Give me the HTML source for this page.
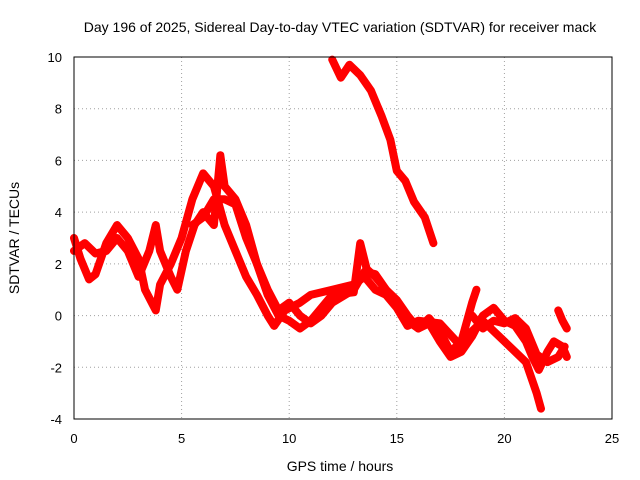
<!DOCTYPE html>
<html><head><meta charset="utf-8"><style>
body{margin:0;background:#fff}
svg{display:block;font-family:"Liberation Sans",sans-serif}
</style></head><body>
<svg id="chart" width="640" height="480">
<rect width="640" height="480" fill="#fff"/>
<text x="340" y="32" text-anchor="middle" font-size="14">Day 196 of 2025, Sidereal Day-to-day VTEC variation (SDTVAR) for receiver mack</text>
<text x="340" y="471" text-anchor="middle" font-size="14">GPS time / hours</text>
<text transform="translate(19,238) rotate(-90)" text-anchor="middle" font-size="14">SDTVAR / TECUs</text>
<g id="grid"></g><g id="ticks"></g><g id="series"></g>
<rect x="74" y="57" width="538" height="362" fill="none" stroke="#000" stroke-width="1"/>
</svg>
<script>
const xTicks=[0,5,10,15,20,25];
const yTicks=[-4,-2,0,2,4,6,8,10];
const seriesA=[[12.0,9.9],[12.4,9.2],[12.8,9.7],[13.3,9.3],[13.8,8.7],[14.3,7.7],[14.7,6.8],[15.0,5.6],[15.4,5.2],[15.8,4.4],[16.3,3.8],[16.7,2.8]];
const seriesB=[[0,3.0],[0.3,2.2],[0.7,1.4],[1.0,1.6],[1.5,2.8],[2.0,3.5],[2.5,3.0],[3.0,2.2],[3.3,1.0],[3.8,0.2],[4.0,1.2],[4.5,2.0],[5,3.0],[5.5,4.5],[6.0,5.5],[6.5,5.0],[7.0,3.5],[7.5,2.5],[8,1.5],[8.5,0.8],[9,0],[9.3,-0.4],[9.8,0.2],[10.5,0.5],[11,0.8],[12,1.0],[13,1.2],[13.5,1.5],[14,1.0],[14.5,0.8],[15,0.3],[15.5,-0.4],[16,-0.2],[17,-0.3],[18,-1.2],[18.5,-0.6],[19,-0.2],[19.5,-0.6],[20,-1.0],[20.5,-1.4],[21,-1.8],[21.5,-3.0],[21.7,-3.6]];
const seriesC=[[0,2.5],[0.5,2.8],[1,2.4],[1.5,2.5],[2,3.0],[2.5,2.5],[3,1.5],[3.5,2.5],[3.8,3.5],[4,2.5],[4.5,1.5],[4.8,1.0],[5.2,2.5],[5.6,3.5],[6.0,4.0],[6.5,3.5],[6.8,6.2],[7.0,5.0],[7.5,4.5],[8,3.5],[8.5,2.0],[9,0.8],[9.5,0.0],[10,-0.2],[10.5,-0.5],[11,-0.2],[11.5,0.3],[12,0.8],[13,0.9],[13.3,2.8],[13.6,1.8],[14,1.5],[14.5,1.0],[15,0.6],[15.5,0.0],[16,-0.5],[16.5,-0.3],[17,-1.0],[17.5,-1.6],[18,-1.4],[18.5,-0.8],[19,0],[19.5,0.3],[20,-0.2],[20.5,-0.4],[21,-1.0],[21.3,-1.6],[21.6,-2.1],[22,-1.4],[22.3,-1.0],[22.7,-1.2],[22.9,-1.6]];
const seriesD=[[5.5,3.5],[6,3.8],[6.5,4.5],[7,4.5],[7.5,4.3],[8,3.0],[8.5,2.0],[9,1.0],[9.5,0.2],[10,0.5],[10.5,0],[11,-0.3],[11.5,0],[12,0.5],[13,1.0],[13.5,1.7],[14,1.6],[14.5,1.0],[15,0.5],[15.5,-0.2],[16,-0.5],[16.5,-0.1],[17,-0.6],[17.5,-1.4],[18,-1.0],[18.5,0.5],[18.7,1.0]];
const seriesE=[[18.5,0],[19,-0.5],[19.5,-0.2],[20,-0.3],[20.5,-0.1],[21,-0.5],[21.5,-1.5],[22,-1.8],[22.5,-1.6],[22.8,-1.2]];
const seriesF=[[22.5,0.2],[22.7,-0.2],[22.9,-0.5]];
const allSeries=[seriesA,seriesB,seriesC,seriesD,seriesE,seriesF];
const NS="http://www.w3.org/2000/svg";
const X=v=>74+v*538/25, Y=v=>57+(10-v)*362/14;
const grid=document.getElementById('grid'),ticks=document.getElementById('ticks'),sg=document.getElementById('series');
function mk(t,a,p){const e=document.createElementNS(NS,t);for(const k in a)e.setAttribute(k,a[k]);p.appendChild(e);return e;}
xTicks.forEach(v=>{
 if(v>0&&v<25){const g=mk('line',{x1:X(v),x2:X(v),y1:57,y2:419,stroke:'#a0a0a0','stroke-dasharray':'1,3'},grid);
 
 }
 const t=mk('text',{x:X(v),y:443,'text-anchor':'middle','font-size':13},ticks);t.textContent=v;
 
 
});
yTicks.forEach(v=>{
 if(v>-4&&v<10){const g=mk('line',{x1:74,x2:612,y1:Y(v),y2:Y(v),stroke:'#a0a0a0','stroke-dasharray':'1,3'},grid);
 
 }
 const t=mk('text',{x:62,y:Y(v)+5,'text-anchor':'end','font-size':13},ticks);t.textContent=v;
 
 
});
allSeries.forEach((s,i)=>{
 const p=mk('polyline',{points:s.map(d=>X(d[0])+','+Y(d[1])).join(' '),fill:'none',stroke:'#ff0000','stroke-width':8,'stroke-linejoin':'round','stroke-linecap':'round'},sg);
 
 
});
</script>
</body></html>
